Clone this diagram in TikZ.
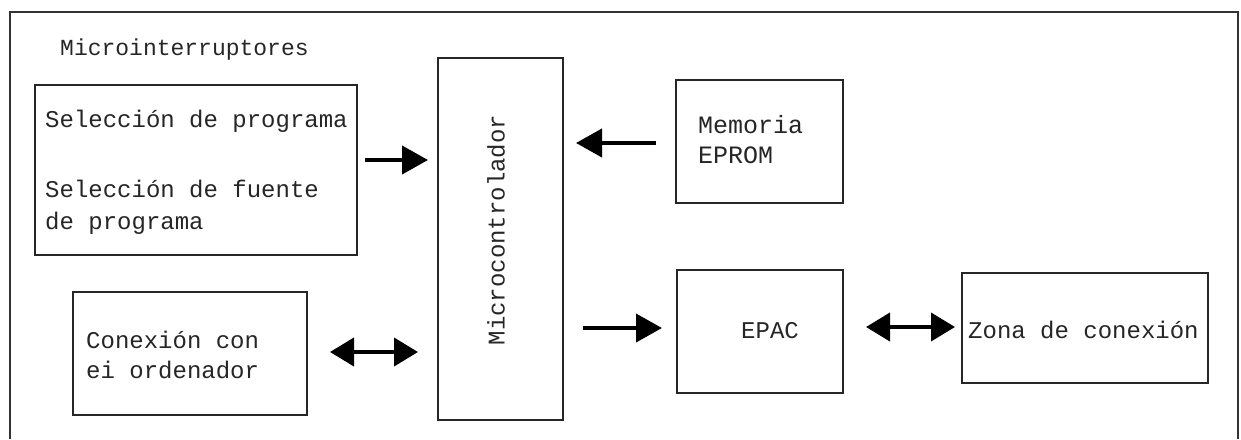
\documentclass[tikz,border=0pt]{standalone}
\usepackage{fontspec}
\setmonofont{Liberation Mono}
\usetikzlibrary{arrows.meta}
\begin{document}
\begin{tikzpicture}[x=1pt,y=-1pt,
  box/.style={draw=black!85,line width=1.4pt,minimum width=#1,inner sep=0pt},
  txt/.style={font=\ttfamily\fontsize{24}{30}\selectfont,text=black!85,anchor=base west,inner sep=0pt},
  arr/.style={line width=4pt,-{Triangle[length=26pt,width=28pt]}},
  darr/.style={line width=4pt,{Triangle[length=24pt,width=28pt]}-{Triangle[length=24pt,width=28pt]}}]
\useasboundingbox (0,0) rectangle (1241,439);
\fill[white] (0,0) rectangle (1241,439);
% outer frame (bottom runs off the page)
\draw[black!80,line width=1.8pt] (10,439) -- (10,12) -- (1238,12) -- (1238,439);
\node[txt,font=\ttfamily\fontsize{23}{30}\selectfont] (mi) at (60,55) {Microinterruptores};
% boxes
\node[box=322pt,minimum height=170pt] (sel) at (196,170) {};
\node[box=125pt,minimum height=362pt] (micro) at (500.5,239) {};
\node[box=167pt,minimum height=123pt] (mem) at (759.5,141.5) {};
\node[box=166pt,minimum height=123pt] (epac) at (760,331.5) {};
\node[box=246pt,minimum height=110pt] (zona) at (1085,328) {};
\node[box=234pt,minimum height=123pt] (conex) at (190,353.5) {};
% texts
\node[txt] (t1) at (45,127) {Selección de programa};
\node[txt] (t2) at (45,197) {Selección de fuente};
\node[txt] (t3) at (45,229) {de programa};
\node[font=\ttfamily\fontsize{24}{30}\selectfont,text=black!85,rotate=90,inner sep=0pt] (tm) at (496,230) {Microcontrolador};
\node[txt,font=\ttfamily\fontsize{25}{30}\selectfont] (t4) at (698,133) {Memoria};
\node[txt,font=\ttfamily\fontsize{25}{30}\selectfont] (t5) at (698,163) {EPROM};
\node[font=\ttfamily\fontsize{24}{30}\selectfont,text=black!85,anchor=base,inner sep=0pt] (t6) at (770,338) {EPAC};
\node[txt] (t7) at (968,338) {Zona de conexión};
\node[txt] (t8) at (86,348) {Conexión con};
\node[txt] (t9) at (86,378) {ei ordenador};
% connectors
\coordinate (a1s) at (365,160); \coordinate (a1e) at (428,160);
\coordinate (a2s) at (656,143); \coordinate (a2e) at (576,143);
\coordinate (a3s) at (583,328); \coordinate (a3e) at (662,328);
\coordinate (a4s) at (330,352); \coordinate (a4e) at (418,352);
\coordinate (a5s) at (866,327); \coordinate (a5e) at (955,327);
\draw[arr] (a1s) -- (a1e);
\draw[arr] (a2s) -- (a2e);
\draw[arr] (a3s) -- (a3e);
\draw[darr] (a4s) -- (a4e);
\draw[darr] (a5s) -- (a5e);
\end{tikzpicture}
\end{document}
